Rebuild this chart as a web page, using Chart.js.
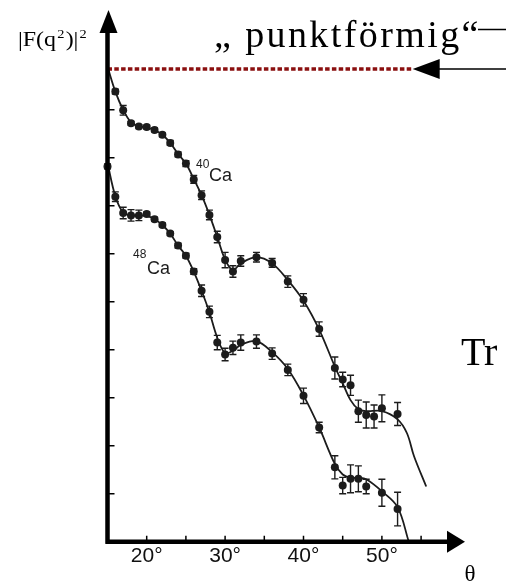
<!DOCTYPE html>
<html>
<head>
<meta charset="utf-8">
<script src="https://cdn.jsdelivr.net/npm/chart.js@4.4.1/dist/chart.umd.min.js"></script>
<style>
  html, body { margin: 0; padding: 0; background: #fff; }
</style>
</head>
<body>
<canvas id="formfactor" width="506" height="583"></canvas>
<script>
// measured cross sections, 40Ca (angle in degrees, log scale in decades)
const anglesCa40 = [16, 17, 18, 19, 20, 21, 22, 23, 24, 25, 26, 27, 28, 29, 30, 31, 32, 34, 36, 38, 40, 42, 44, 45, 46, 47, 48, 49, 50, 52];
const valuesCa40 = [9.38, 8.99, 8.72, 8.65, 8.64, 8.58, 8.48, 8.31, 8.07, 7.88, 7.55, 7.22, 6.81, 6.35, 5.87, 5.63, 5.85, 5.93, 5.81, 5.42, 5.04, 4.43, 3.62, 3.38, 3.26, 2.72, 2.64, 2.61, 2.78, 2.66];
const errorsCa40 = [0.05, 0.1, 0.04, 0.04, 0.04, 0.04, 0.04, 0.05, 0.05, 0.06, 0.08, 0.09, 0.1, 0.12, 0.16, 0.12, 0.11, 0.1, 0.09, 0.12, 0.13, 0.15, 0.23, 0.15, 0.21, 0.23, 0.27, 0.24, 0.28, 0.24];

// measured cross sections, 48Ca
const anglesCa48 = [15, 16, 17, 18, 19, 20, 21, 22, 23, 24, 25, 26, 27, 28, 29, 30, 31, 32, 34, 36, 38, 40, 42, 44, 45, 46, 47, 48, 50, 52];
const valuesCa48 = [7.82, 7.19, 6.85, 6.8, 6.8, 6.83, 6.72, 6.6, 6.42, 6.17, 5.96, 5.63, 5.23, 4.79, 4.15, 3.9, 4.04, 4.15, 4.17, 3.92, 3.58, 3.04, 2.38, 1.55, 1.17, 1.31, 1.31, 1.15, 1.02, 0.68];
const errorsCa48 = [0.05, 0.1, 0.12, 0.12, 0.11, 0.04, 0.04, 0.04, 0.04, 0.05, 0.05, 0.06, 0.12, 0.12, 0.15, 0.13, 0.14, 0.16, 0.14, 0.12, 0.12, 0.16, 0.11, 0.24, 0.17, 0.29, 0.27, 0.15, 0.28, 0.35];

// fitted curves
const fitAnglesCa40 = [15, 16, 17, 18, 19, 20, 21, 22, 23, 24, 25, 26, 27, 28, 29, 30, 31, 32, 34, 36, 38, 40, 42, 44, 45, 46, 47, 48, 50, 52, 53.2, 54.1, 55.65];
const fitValuesCa40 = [9.9, 9.38, 9.0, 8.74, 8.66, 8.63, 8.58, 8.48, 8.31, 8.08, 7.88, 7.56, 7.22, 6.81, 6.35, 5.88, 5.66, 5.8, 5.93, 5.8, 5.45, 5.02, 4.42, 3.65, 3.3, 2.95, 2.76, 2.72, 2.72, 2.55, 2.26, 1.78, 1.15];
const fitAnglesCa48 = [15, 16, 17, 18, 19, 20, 21, 22, 23, 24, 25, 26, 27, 28, 29, 30, 31, 32, 34, 36, 38, 40, 42, 44, 45, 46, 47, 48, 50, 52, 53.43];
const fitValuesCa48 = [7.89, 7.2, 6.86, 6.8, 6.8, 6.79, 6.72, 6.6, 6.42, 6.17, 5.96, 5.63, 5.23, 4.78, 4.25, 3.93, 3.98, 4.1, 4.18, 3.95, 3.6, 3.05, 2.38, 1.62, 1.4, 1.33, 1.33, 1.3, 1.05, 0.72, 0];

// point-like nucleus level and its extent
const pointLikeLevel = 9.85;
const pointLikeRange = [15, 53.8];

// axis ranges and ticks
const xRange = [15, 60.6];
const yRange = [0, 11.08];
const xTickMarks = [20, 25, 30, 35, 40, 45, 50, 55];
const xTickLabels = [20, 30, 40, 50];
const yTickMarks = [1, 2, 3, 4, 5, 6, 7, 8, 9];

const toXY = (xs, ys) => xs.map((v, i) => ({ x: v, y: ys[i] }));
const INK = '#1c1c1c';

const decorations = {
  id: 'decorations',
  afterDatasetsDraw(chart) {
    const { ctx, scales: { x, y } } = chart;
    ctx.save();
    ctx.strokeStyle = INK;
    ctx.lineWidth = 1.4;
    [[anglesCa40, valuesCa40, errorsCa40], [anglesCa48, valuesCa48, errorsCa48]].forEach(([xs, ys, es]) => {
      xs.forEach((t, i) => {
        const px = x.getPixelForValue(t);
        const top = y.getPixelForValue(ys[i] + es[i]);
        const bot = y.getPixelForValue(ys[i] - es[i]);
        ctx.beginPath();
        ctx.moveTo(px, top); ctx.lineTo(px, bot);
        ctx.moveTo(px - 3.5, top); ctx.lineTo(px + 3.5, top);
        ctx.moveTo(px - 3.5, bot); ctx.lineTo(px + 3.5, bot);
        ctx.stroke();
      });
    });
    ctx.restore();
  },
  afterDraw(chart) {
    const { ctx, scales: { x, y }, chartArea: a } = chart;
    ctx.save();
    ctx.fillStyle = '#000';
    ctx.strokeStyle = '#000';

    // tick marks inside the axes
    ctx.lineWidth = 1.5;
    ctx.beginPath();
    xTickMarks.forEach(t => {
      const px = x.getPixelForValue(t);
      ctx.moveTo(px, a.bottom); ctx.lineTo(px, a.bottom - 6);
    });
    yTickMarks.forEach(v => {
      const py = y.getPixelForValue(v);
      ctx.moveTo(a.left, py); ctx.lineTo(a.left + 7, py);
    });
    ctx.stroke();

    // axes with arrow heads
    ctx.lineWidth = 4.5;
    ctx.beginPath();
    ctx.moveTo(a.left, a.bottom + 2); ctx.lineTo(a.left, a.top + 20);
    ctx.moveTo(a.left - 2, a.bottom); ctx.lineTo(a.right - 16, a.bottom);
    ctx.stroke();
    ctx.beginPath();
    ctx.moveTo(a.left + 1, a.top); ctx.lineTo(a.left + 10, a.top + 23); ctx.lineTo(a.left - 8, a.top + 23);
    ctx.closePath(); ctx.fill();
    ctx.beginPath();
    ctx.moveTo(a.right, a.bottom); ctx.lineTo(a.right - 18, a.bottom - 11); ctx.lineTo(a.right - 18, a.bottom + 11);
    ctx.closePath(); ctx.fill();

    // arrow pointing at the point-like level
    const ly = y.getPixelForValue(pointLikeLevel);
    const lx = x.getPixelForValue(pointLikeRange[1]) + 1;
    ctx.lineWidth = 1.5;
    ctx.beginPath();
    ctx.moveTo(lx + 24, ly); ctx.lineTo(506, ly);
    ctx.moveTo(478, 29.5); ctx.lineTo(506, 29.5);
    ctx.stroke();
    ctx.beginPath();
    ctx.moveTo(lx, ly); ctx.lineTo(lx + 27, ly - 10); ctx.lineTo(lx + 27, ly + 10);
    ctx.closePath(); ctx.fill();

    // y axis title |F(q²)|², squeezed into its slot
    ctx.textBaseline = 'alphabetic';
    ctx.textAlign = 'left';
    const parts = [['|F(q', 20, 0], ['2', 12, -8], [')|', 20, 0], ['2', 12, -8]];
    let total = 0;
    parts.forEach(([s, size]) => { ctx.font = size + 'px "Liberation Serif"'; total += ctx.measureText(s).width + 1; });
    const sx = 70 / total;
    ctx.save();
    ctx.translate(18, 46);
    ctx.scale(sx, 1);
    let cx = 0;
    parts.forEach(([s, size, dy]) => {
      ctx.font = size + 'px "Liberation Serif"';
      ctx.fillText(s, cx, dy);
      cx += ctx.measureText(s).width + 1;
    });
    ctx.restore();

    ctx.font = '38px "Liberation Serif"';
    ctx.letterSpacing = '2.4px';
    ctx.fillText('\u201E punktförmig\u201C', 214, 47);
    ctx.letterSpacing = '0px';

    ctx.font = '40px "Liberation Serif"';
    ctx.fillText('Tr', 461, 365);

    ctx.fillStyle = INK;
    ctx.font = '12px "Liberation Sans"';
    ctx.fillText('40', 196, 168);
    ctx.fillText('48', 133, 258);
    ctx.font = '18px "Liberation Sans"';
    ctx.fillText('Ca', 209, 181);
    ctx.fillText('Ca', 147, 274);

    ctx.fillStyle = '#000';
    ctx.textAlign = 'center';
    ctx.font = '23px "Liberation Serif"';
    ctx.fillText('\u03B8', 470, 581);
    ctx.restore();
  }
};

new Chart(document.getElementById('formfactor'), {
  type: 'scatter',
  data: {
    datasets: [
      {
        data: toXY(anglesCa40, valuesCa40),
        pointRadius: 4,
        pointBackgroundColor: INK,
        pointBorderWidth: 0,
        clip: false
      },
      {
        data: toXY(anglesCa48, valuesCa48),
        pointRadius: 4,
        pointBackgroundColor: INK,
        pointBorderWidth: 0,
        clip: false
      },
      {
        data: toXY(fitAnglesCa40, fitValuesCa40),
        showLine: true,
        pointRadius: 0,
        borderColor: INK,
        borderWidth: 1.8,
        tension: 0.35
      },
      {
        data: toXY(fitAnglesCa48, fitValuesCa48),
        showLine: true,
        pointRadius: 0,
        borderColor: INK,
        borderWidth: 1.8,
        tension: 0.35
      },
      {
        data: toXY(pointLikeRange, [pointLikeLevel, pointLikeLevel]),
        showLine: true,
        pointRadius: 0,
        borderColor: '#8b1010',
        borderWidth: 3.5,
        borderDash: [4.5, 2.3],
        clip: false
      }
    ]
  },
  options: {
    responsive: false,
    animation: false,
    devicePixelRatio: 1,
    layout: { padding: { top: 10, right: 41, left: 0, bottom: 0 } },
    plugins: { legend: { display: false }, tooltip: { enabled: false } },
    scales: {
      x: {
        type: 'linear',
        min: xRange[0],
        max: xRange[1],
        grid: { display: false },
        border: { display: false },
        afterFit: s => { s.height = 41.3; },
        ticks: {
          stepSize: 5,
          autoSkip: false,
          maxRotation: 0,
          padding: -6,
          color: '#111',
          font: { family: '"Liberation Sans"', size: 21 },
          callback: v => xTickLabels.includes(v) ? v + '\u00B0' : ''
        }
      },
      y: {
        type: 'linear',
        min: yRange[0],
        max: yRange[1],
        grid: { display: false },
        border: { display: false },
        ticks: { display: false },
        afterFit: s => { s.width = 107.5; }
      }
    }
  },
  plugins: [decorations]
});
</script>
</body>
</html>
